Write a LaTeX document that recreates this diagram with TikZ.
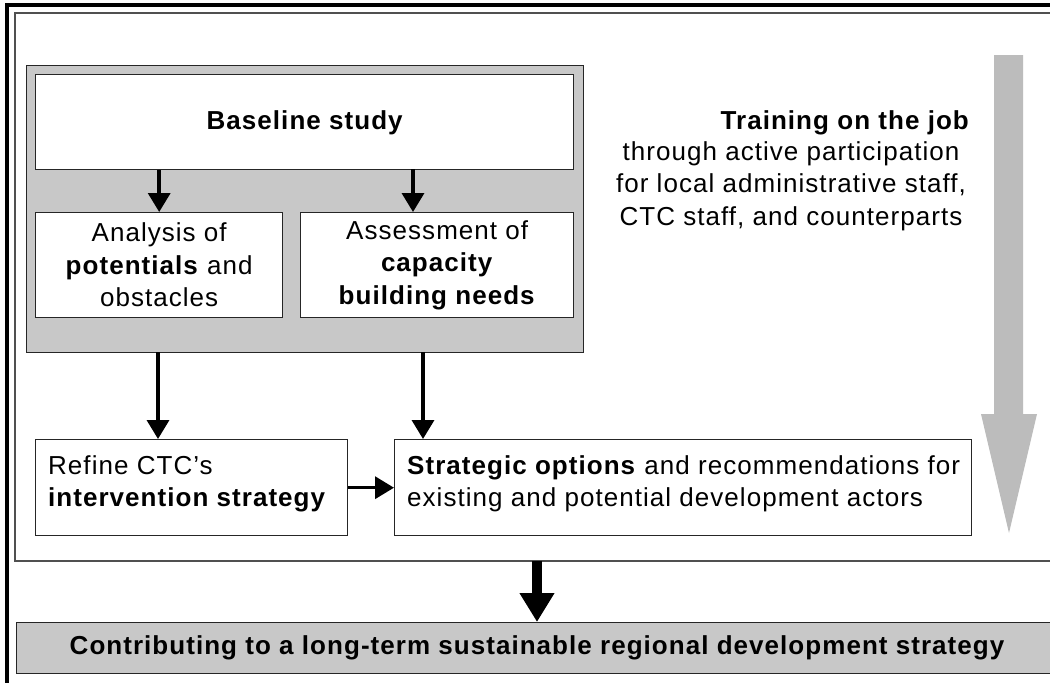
\documentclass[tikz,border=0pt]{standalone}
\usepackage{fontspec}
\setmainfont{Liberation Sans}[LetterSpace=4]
\usetikzlibrary{arrows.meta}
\definecolor{shade}{RGB}{200,200,200}
\definecolor{arrshade}{RGB}{188,188,188}
\definecolor{frameline}{RGB}{80,80,80}
\tikzset{
  box/.style={draw=black!85, line width=1.4pt, fill=white, inner sep=0pt},
  txt/.style={font=\fontsize{26}{32.5}\selectfont, inner sep=0pt},
  btxt/.style={font=\fontsize{26}{32.5}\selectfont\bfseries, inner sep=0pt},
  flow/.style={line width=3.5pt, -{Triangle[length=19pt,width=22pt]}},
  bigflow/.style={line width=10pt, -{Triangle[length=29pt,width=33pt]}},
}
\begin{document}
\begin{tikzpicture}[x=1pt,y=-1pt]
\useasboundingbox (0,0) rectangle (1050,683);
\clip (0,0) rectangle (1050,683);
\fill[white] (0,0) rectangle (1050,683);
% frames
\draw[line width=3.5pt, black] (7,5) rectangle (1070,700);
\draw[line width=2pt, frameline] (15,13) rectangle (1065,561);
% grey group
\node[draw=black!85, line width=1.4pt, fill=shade, minimum width=557pt, minimum height=287pt, anchor=north west, inner sep=0pt] (grp) at (26,65) {};
% boxes
\node[box, minimum width=538pt, minimum height=95pt, anchor=north west] (base) at (35,74) {};
\node[btxt] (basetxt) at ([yshift=-1pt]base.center) {Baseline study};
\node[box, minimum width=247pt, minimum height=105pt, anchor=north west] (ana) at (35,212) {};
\node[txt, align=center] (anatxt) at (ana.center) {Analysis of\\\textbf{potentials} and\\obstacles};
\node[box, minimum width=273pt, minimum height=105pt, anchor=north west] (ass) at (300,212) {};
\node[txt, align=center] (asstxt) at (ass.center) {Assessment of\\\textbf{capacity}\\\textbf{building needs}};
\node[box, minimum width=312pt, minimum height=96pt, anchor=north west] (ref) at (35,439) {};
\node[txt, align=left, anchor=west] (reftxt) at ([xshift=13pt,yshift=4pt]ref.west) {Refine CTC’s\\\textbf{intervention strategy}};
\node[box, minimum width=577pt, minimum height=96pt, anchor=north west] (str) at (394,439) {};
\node[txt, align=left, anchor=west] (strtxt) at ([xshift=13pt,yshift=4pt]str.west) {\textbf{Strategic options} and recommendations for\\existing and potential development actors};
% bottom box
\node[draw=black!85, line width=1.4pt, fill=shade, minimum width=1060pt, minimum height=51pt, anchor=north west, inner sep=0pt] (goal) at (16,622) {};
\node[btxt] (goaltxt) at (537,648) {Contributing to a long-term sustainable regional development strategy};
% training text
\node[btxt, anchor=east] (train) at (969,123) {Training on the job};
\node[txt, align=center, anchor=north] (trtxt) at (791,141) {through active participation\\for local administrative staff,\\CTC staff, and counterparts};
% grey arrow
\fill[arrshade] (994,55) -- (1023,55) -- (1023,414) -- (1037,414) -- (1009,533) -- (981,414) -- (994,414) -- cycle;
% coordinates
\coordinate (g1) at (158,352);
\coordinate (g2) at (423,352);
\coordinate (f1) at (537,561);
% arrows
\draw[flow] (base.south -| ana.north) -- (ana.north);
\draw[flow] (413,169) -- (413,212);
\draw[flow] (g1) -- (g1 |- ref.north);
\draw[flow] (g2) -- (g2 |- str.north);
\draw[flow] (ref.east) -- (str.west);
\draw[bigflow] (f1) -- (f1 |- goal.north);
\end{tikzpicture}
\end{document}
